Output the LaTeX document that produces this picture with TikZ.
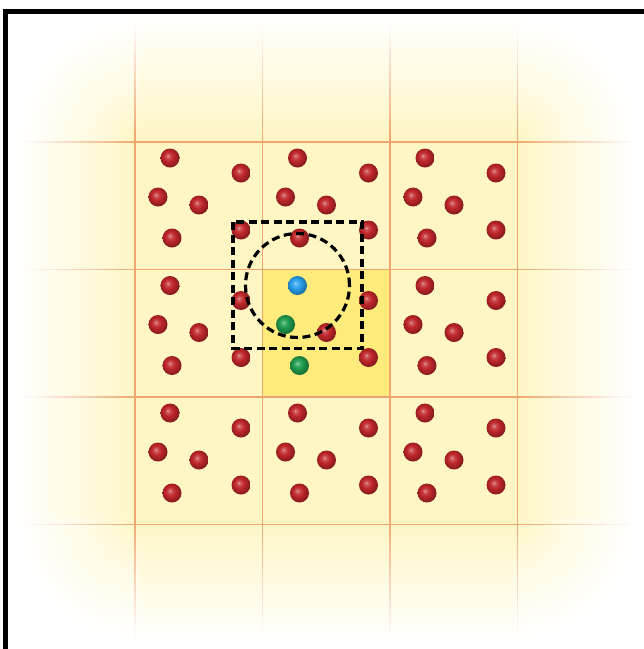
\documentclass[tikz,border=0pt]{standalone}
\usetikzlibrary{shadings,calc}
\definecolor{bgyel}{RGB}{255,246,196}
\colorlet{bgmid}{bgyel!36!white}
\definecolor{cellyel}{RGB}{255,234,124}
\definecolor{gridor}{RGB}{238,166,110}
\definecolor{atomred}{RGB}{192,38,42}
\definecolor{atomblue}{RGB}{40,158,235}
\definecolor{atomgreen}{RGB}{30,155,75}
\pgfdeclareradialshading{cornerfade}{\pgfpoint{0bp}{0bp}}{color(0bp)=(bgyel); color(12.5bp)=(bgmid); color(25bp)=(white); color(50bp)=(white)}
\pgfdeclareradialshading{redball}{\pgfpoint{-6bp}{6bp}}{color(0bp)=(atomred!45!white); color(5bp)=(atomred!80!white); color(13bp)=(atomred); color(22bp)=(atomred!80!black); color(28bp)=(atomred!65!black); color(50bp)=(atomred!65!black)}
\pgfdeclareradialshading{blueball}{\pgfpoint{-6bp}{6bp}}{color(0bp)=(atomblue!45!white); color(5bp)=(atomblue!80!white); color(13bp)=(atomblue); color(22bp)=(atomblue!80!black); color(28bp)=(atomblue!65!black); color(50bp)=(atomblue!65!black)}
\pgfdeclareradialshading{greenball}{\pgfpoint{-6bp}{6bp}}{color(0bp)=(atomgreen!45!white); color(5bp)=(atomgreen!80!white); color(13bp)=(atomgreen); color(22bp)=(atomgreen!80!black); color(28bp)=(atomgreen!65!black); color(50bp)=(atomgreen!65!black)}
\begin{document}
\begin{tikzpicture}[x=1pt,y=-1pt,
  atom/.style={circle, minimum size=19pt, inner sep=0pt},
  redatom/.style={atom, shading=redball},
  blueatom/.style={atom, shading=blueball},
  greenatom/.style={atom, shading=greenball},
  gridline/.style={line width=1.1pt},
  dashline/.style={draw=black, line width=3.2pt, dash pattern=on 8pt off 4.5pt}]
\useasboundingbox (0,0) rectangle (644,649);
\fill[white] (0,0) rectangle (644,649);
% background: uniform core, faded edges and corners
\fill[bgyel] (138,138) rectangle (515,518);
\shade[left color=white, middle color=bgmid, right color=bgyel] (15,138) rectangle (138,518);
\shade[left color=bgyel, middle color=bgmid, right color=white] (515,138) rectangle (638,518);
\shade[top color=white, middle color=bgmid, bottom color=bgyel] (138,15) rectangle (515,138);
\shade[top color=bgyel, middle color=bgmid, bottom color=white] (138,518) rectangle (515,641);
\begin{scope}\clip (15,15) rectangle (138,138);
  \shade[shading=cornerfade] (138,138) circle (123pt);\end{scope}
\begin{scope}\clip (515,15) rectangle (638,138);
  \shade[shading=cornerfade] (515,138) circle (123pt);\end{scope}
\begin{scope}\clip (15,518) rectangle (138,641);
  \shade[shading=cornerfade] (138,518) circle (123pt);\end{scope}
\begin{scope}\clip (515,518) rectangle (638,641);
  \shade[shading=cornerfade] (515,518) circle (123pt);\end{scope}
\fill[cellyel] (262.5,269.5) rectangle (390,397);
% grid lines, fading towards the edges in small steps
\foreach \x in {135,262.5,390,517.5} {
  \draw[gridline, gridor] (\x,138) -- (\x,518);
  \foreach \s in {0,...,15} {
    \pgfmathtruncatemacro\pct{(\s+0.5)*100/16}
    \draw[gridline, gridor!\pct!white] (\x,{22+7.25*\s}) -- (\x,{22+7.25*(\s+1)});
    \draw[gridline, gridor!\pct!white] (\x,{638-7.5*\s}) -- (\x,{638-7.5*(\s+1)});
  }
}
\foreach \y in {142,269.5,397,524.5} {
  \draw[gridline, gridor] (138,\y) -- (515,\y);
  \foreach \s in {0,...,15} {
    \pgfmathtruncatemacro\pct{(\s+0.5)*100/16}
    \draw[gridline, gridor!\pct!white] ({22+7.25*\s},\y) -- ({22+7.25*(\s+1)},\y);
    \draw[gridline, gridor!\pct!white] ({635-7.5*\s},\y) -- ({635-7.5*(\s+1)},\y);
  }
}
\foreach \i in {0,1,2} {
  \foreach \j in {0,1,2} {
    \foreach \k/\dx/\dy in {0/35/16,1/106/31,2/23/55,3/64/63,4/37/96,5/106/88} {
      \pgfmathsetmacro\px{135+127.5*\i+\dx}
      \pgfmathsetmacro\py{142+127.5*\j+\dy}
      \def\st{redatom}
      \ifnum\i=1 \ifnum\j=1
        \ifnum\k=0 \def\st{blueatom}\fi
        \ifnum\k=2 \def\st{greenatom}\fi
        \ifnum\k=4 \def\st{greenatom}\fi
      \fi\fi
      \node[\st] (a\i\j\k) at (\px,\py) {};
    }
  }
}
\draw[dashline] (a110) circle[radius=52pt];
\draw[dashline] ($(a110)+(-64.5,-63.5)$) rectangle ($(a110)+(64.5,63)$);
\fill[black] (3,9) rectangle (644,13.5);
\fill[black] (3,9) rectangle (7.5,649);
\end{tikzpicture}
\end{document}
